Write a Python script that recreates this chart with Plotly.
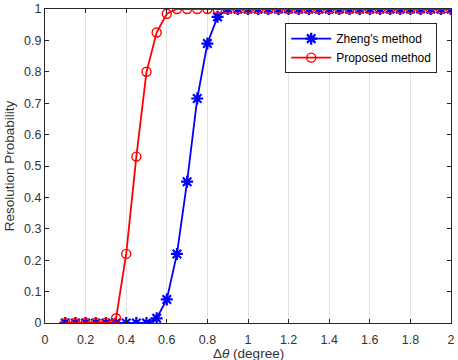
import plotly.graph_objects as go

x = [round(0.1 + 0.05 * i, 2) for i in range(39)]
zheng_head = [0, 0, 0, 0, 0, 0, 0, 0, 0, 0.015, 0.075, 0.22, 0.45, 0.715, 0.89, 0.975]
proposed_head = [0, 0, 0, 0, 0, 0.015, 0.22, 0.53, 0.80, 0.925, 0.985]
zheng = zheng_head + [1] * (len(x) - len(zheng_head))
proposed = proposed_head + [1] * (len(x) - len(proposed_head))

xticks = [0, 0.2, 0.4, 0.6, 0.8, 1, 1.2, 1.4, 1.6, 1.8, 2]
xticklabels = ["0", "0.2", "0.4", "0.6", "0.8", "1", "1.2", "1.4", "1.6", "1.8", "2"]
yticks = [0, 0.1, 0.2, 0.3, 0.4, 0.5, 0.6, 0.7, 0.8, 0.9, 1]
yticklabels = ["0", "0.1", "0.2", "0.3", "0.4", "0.5", "0.6", "0.7", "0.8", "0.9", "1"]

fig = go.Figure()
fig.add_trace(go.Scatter(
    x=x, y=zheng, mode="lines+markers", name="Zheng's method",
    line=dict(color="#0000ff", width=1.8),
    marker=dict(symbol="asterisk-open", size=10, color="#0000ff", line=dict(color="#0000ff", width=2.2)),
))
fig.add_trace(go.Scatter(
    x=x, y=proposed, mode="lines+markers", name="Proposed method",
    line=dict(color="#ff0000", width=1.8),
    marker=dict(symbol="circle-open", size=9, color="#ff0000", line=dict(color="#ff0000", width=1.4)),
))

axis_common = dict(
    showline=True, linecolor="#262626", linewidth=1, mirror="ticks",
    ticks="inside", ticklen=4, tickcolor="#262626",
    tickfont=dict(family="Liberation Sans, Arial", size=12.5, color="#333333"),
    zeroline=False, automargin=False,
)
fig.update_layout(
    width=458, height=360,
    margin=dict(l=45, r=7, t=9, b=37),
    paper_bgcolor="white", plot_bgcolor="white",
    font=dict(family="Liberation Sans, Arial", color="#262626"),
    xaxis=dict(
        range=[0, 2], tickvals=xticks, ticktext=xticklabels,
        showgrid=True, gridcolor="#e3e3e3", gridwidth=1,
        ticklabelstandoff=5,
        **axis_common,
    ),
    yaxis=dict(
        range=[0, 1], tickvals=yticks, ticktext=yticklabels,
        showgrid=False,
        title=dict(text="Resolution Probability", font=dict(size=13.5, color="#333333"), standoff=6),
        **axis_common,
    ),
    legend=dict(
        x=0.966, y=0.955, xanchor="right", yanchor="top",
        bgcolor="white", bordercolor="#262626", borderwidth=1,
        font=dict(size=12, color="#000000"),
        itemwidth=40, tracegroupgap=0,
    ),
    annotations=[dict(
        text="Δ<i>θ</i> (degree)", xref="paper", yref="paper",
        x=0.5, y=-0.096, xanchor="center", yanchor="middle", showarrow=False,
        font=dict(family="Liberation Sans, Arial", size=13.5, color="#333333"),
    )],
    showlegend=True,
)

fig.write_html("out.html")
